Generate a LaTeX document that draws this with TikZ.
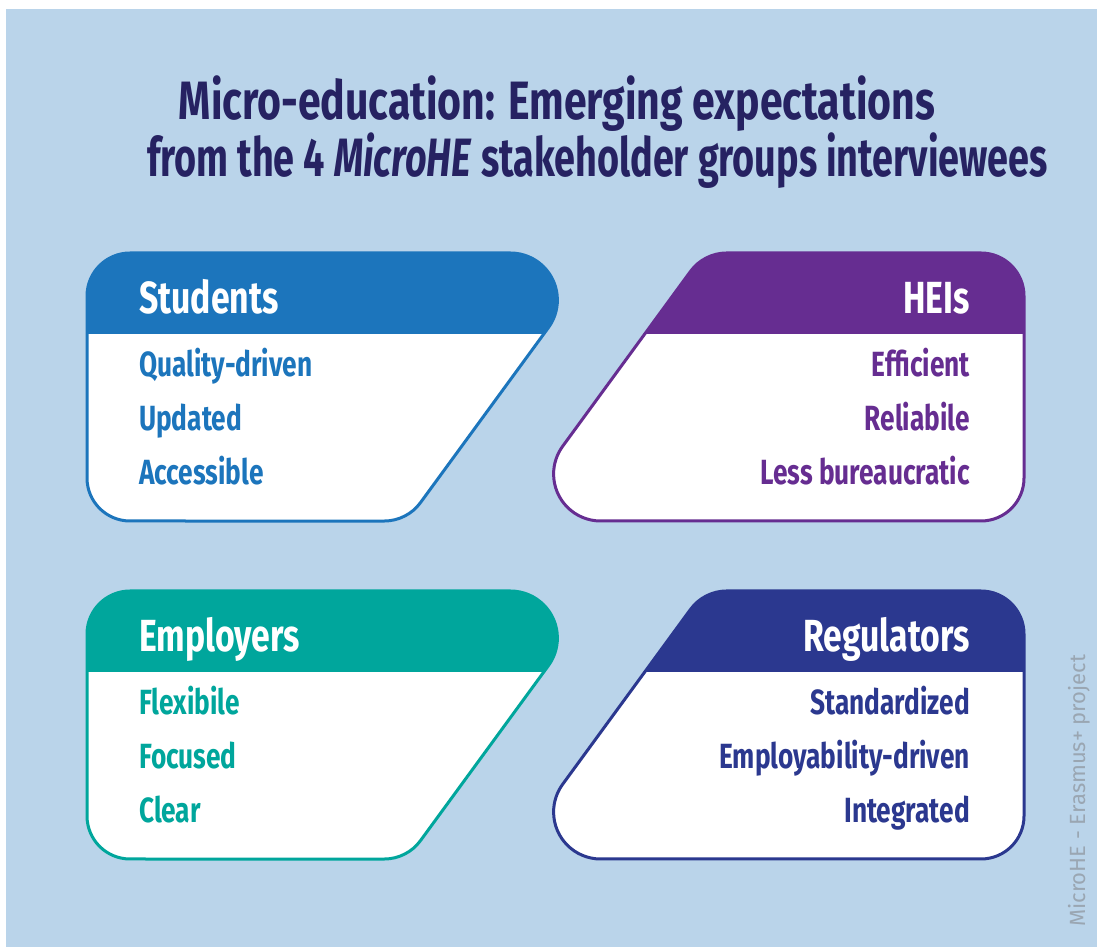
\documentclass[tikz,border=0pt]{standalone}
\usepackage{fontspec}
\usepackage{graphicx}
\setmainfont{Fira Sans}[FakeStretch=0.75]
\newfontfamily\vfont{Fira Sans}
\definecolor{bgblue}{HTML}{BAD4EA}
\definecolor{titlec}{HTML}{262262}
\definecolor{cstud}{HTML}{1C75BC}
\definecolor{chei}{HTML}{662D91}
\definecolor{cemp}{HTML}{00A69C}
\definecolor{creg}{HTML}{2B388F}
\definecolor{vgrey}{HTML}{9AA6B2}
\def\leftshape{(87,-43) arc[start angle=180,end angle=90,radius=43pt] -- (510.4,0) arc[start angle=90,end angle=-36.19,radius=47pt] -- (420.5,-249.6) arc[start angle=-36.19,end angle=-90,radius=45pt] -- (130,-268) arc[start angle=-90,end angle=-180,radius=43pt] -- cycle}
\def\rightshape{(1024,-225) arc[start angle=0,end angle=-90,radius=43pt] -- (600.6,-268) arc[start angle=-90,end angle=-216.19,radius=47pt] -- (690.5,-18.4) arc[start angle=143.81,end angle=90,radius=45pt] -- (981,0) arc[start angle=90,end angle=0,radius=43pt] -- cycle}
\tikzset{
  titletext/.style={inner sep=0pt, text=titlec, font=\bfseries\fontsize{54}{60}\selectfont},
  headtext/.style={inner sep=0pt, text=white, font=\bfseries\fontsize{45}{50}\selectfont},
  itemtext/.style={inner sep=0pt, font=\bfseries\fontsize{35}{40}\selectfont},
  outline/.style={line width=3pt}
}
\begin{document}
\begin{tikzpicture}[x=1pt,y=1pt]
\useasboundingbox (0,0) rectangle (1097,947);
\fill[white] (0,0) rectangle (1097,947);
\fill[bgblue] (6,0) rectangle (1097,938);
\node[titletext, anchor=base] (t1) at (557,827) {\scalebox{1.012}[1]{Micro-education: Emerging expectations}};
\node[titletext, anchor=base] (t2) at (597.5,770) {\scalebox{0.933}[1]{from the 4 \textit{MicroHE} stakeholder groups interviewees}};
% Students
\begin{scope}[shift={(0,694)}]
  \fill[white] \leftshape;
  \begin{scope}\clip \leftshape; \fill[cstud] (0,2) rectangle (1100,-81);\end{scope}
  \draw[cstud, outline] \leftshape;
  \node[headtext, anchor=base west] (sh) at (139,-61) {Students};
  \node[itemtext, text=cstud, anchor=base west] (s1) at (139,-124) {Quality-driven};
  \node[itemtext, text=cstud, anchor=base west] (s2) at (139,-178) {Updated};
  \node[itemtext, text=cstud, anchor=base west] (s3) at (139,-232) {Accessible};
\end{scope}
% HEIs
\begin{scope}[shift={(0,694)}]
  \fill[white] \rightshape;
  \begin{scope}\clip \rightshape; \fill[chei] (0,2) rectangle (1100,-81);\end{scope}
  \draw[chei, outline] \rightshape;
  \node[headtext, anchor=base east] (hh) at (970,-61) {HEIs};
  \node[itemtext, text=chei, anchor=base east] (h1) at (970,-124) {Efficient};
  \node[itemtext, text=chei, anchor=base east] (h2) at (970,-178) {Reliabile};
  \node[itemtext, text=chei, anchor=base east] (h3) at (970,-232) {Less bureaucratic};
\end{scope}
% Employers
\begin{scope}[shift={(0,356)}]
  \fill[white] \leftshape;
  \begin{scope}\clip \leftshape; \fill[cemp] (0,2) rectangle (1100,-81);\end{scope}
  \draw[cemp, outline] \leftshape;
  \node[headtext, anchor=base west] (eh) at (139,-61) {Employers};
  \node[itemtext, text=cemp, anchor=base west] (e1) at (139,-124) {Flexibile};
  \node[itemtext, text=cemp, anchor=base west] (e2) at (139,-178) {Focused};
  \node[itemtext, text=cemp, anchor=base west] (e3) at (139,-232) {Clear};
\end{scope}
% Regulators
\begin{scope}[shift={(0,356)}]
  \fill[white] \rightshape;
  \begin{scope}\clip \rightshape; \fill[creg] (0,2) rectangle (1100,-81);\end{scope}
  \draw[creg, outline] \rightshape;
  \node[headtext, anchor=base east] (rh) at (970,-61) {Regulators};
  \node[itemtext, text=creg, anchor=base east] (r1) at (970,-124) {Standardized};
  \node[itemtext, text=creg, anchor=base east] (r2) at (970,-178) {Employability-driven};
  \node[itemtext, text=creg, anchor=base east] (r3) at (970,-232) {Integrated};
\end{scope}
\node[inner sep=0pt, rotate=90, anchor=base west, text=vgrey, font=\vfont\fontsize{22}{26}\selectfont] (credit) at (1085,20) {MicroHE - Erasmus+ project};
\end{tikzpicture}
\end{document}
